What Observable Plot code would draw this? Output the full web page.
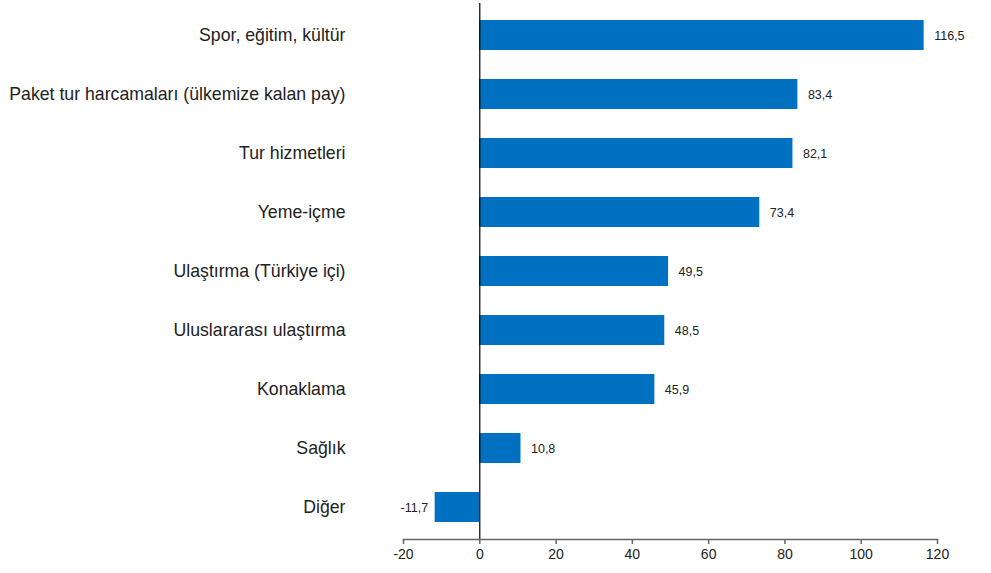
<!DOCTYPE html>
<html>
<head>
<meta charset="utf-8">
<script src="https://cdn.jsdelivr.net/npm/d3@7"></script>
<script src="https://cdn.jsdelivr.net/npm/@observablehq/plot@0.6"></script>
<style>
  html, body { margin: 0; padding: 0; background: #fff; }
  #chart { width: 991px; height: 573px; }
</style>
</head>
<body>
<div id="chart"></div>
<script>
const categories = [
  "Spor, eğitim, kültür",
  "Paket tur harcamaları (ülkemize kalan pay)",
  "Tur hizmetleri",
  "Yeme-içme",
  "Ulaştırma (Türkiye içi)",
  "Uluslararası ulaştırma",
  "Konaklama",
  "Sağlık",
  "Diğer"
];
const values = [116.5, 83.4, 82.1, 73.4, 49.5, 48.5, 45.9, 10.8, -11.7];
const xTicks = [-20, 0, 20, 40, 60, 80, 100, 120];

const data = categories.map((c, i) => ({category: c, value: values[i]}));
const fmt = v => d3.format(".1f")(v).replace(".", ",").replace("\u2212", "-");

const chart = Plot.plot({
  width: 991,
  height: 573,
  marginLeft: 403,
  marginRight: 54,
  marginTop: 3,
  marginBottom: 34,
  style: {fontFamily: "Arial, 'Liberation Sans', sans-serif", background: "#fff", color: "#222"},
  x: {domain: [-20, 120], axis: null},
  y: {domain: categories, paddingInner: 0.496, paddingOuter: 0.22, axis: null},
  marks: [
    Plot.barX(data, {x: "value", y: "category", fill: "#0070C0"}),
    Plot.ruleX([0], {stroke: "#000", strokeWidth: 1.2}),
    Plot.frame({anchor: "bottom", stroke: "#666", strokeWidth: 1.5}),
    Plot.axisX({ticks: xTicks, tickFormat: d => String(d), tickSize: 5, tickPadding: 5, fontSize: 14, stroke: "#666", strokeWidth: 1.5, fill: "#222", label: null}),
    Plot.axisY({tickSize: 0, tickPadding: 58, fontSize: 17.7, fill: "#222", label: null}),
    Plot.text(data.filter(d => d.value >= 0), {
      x: "value", y: "category", text: d => fmt(d.value),
      textAnchor: "start", dx: 10, fontSize: 12.5, fill: "#222"
    }),
    Plot.text(data.filter(d => d.value < 0), {
      x: "value", y: "category", text: d => fmt(d.value),
      textAnchor: "end", dx: -7, fontSize: 12.5, fill: "#222"
    })
  ]
});

document.getElementById("chart").appendChild(chart);
</script>
</body>
</html>
